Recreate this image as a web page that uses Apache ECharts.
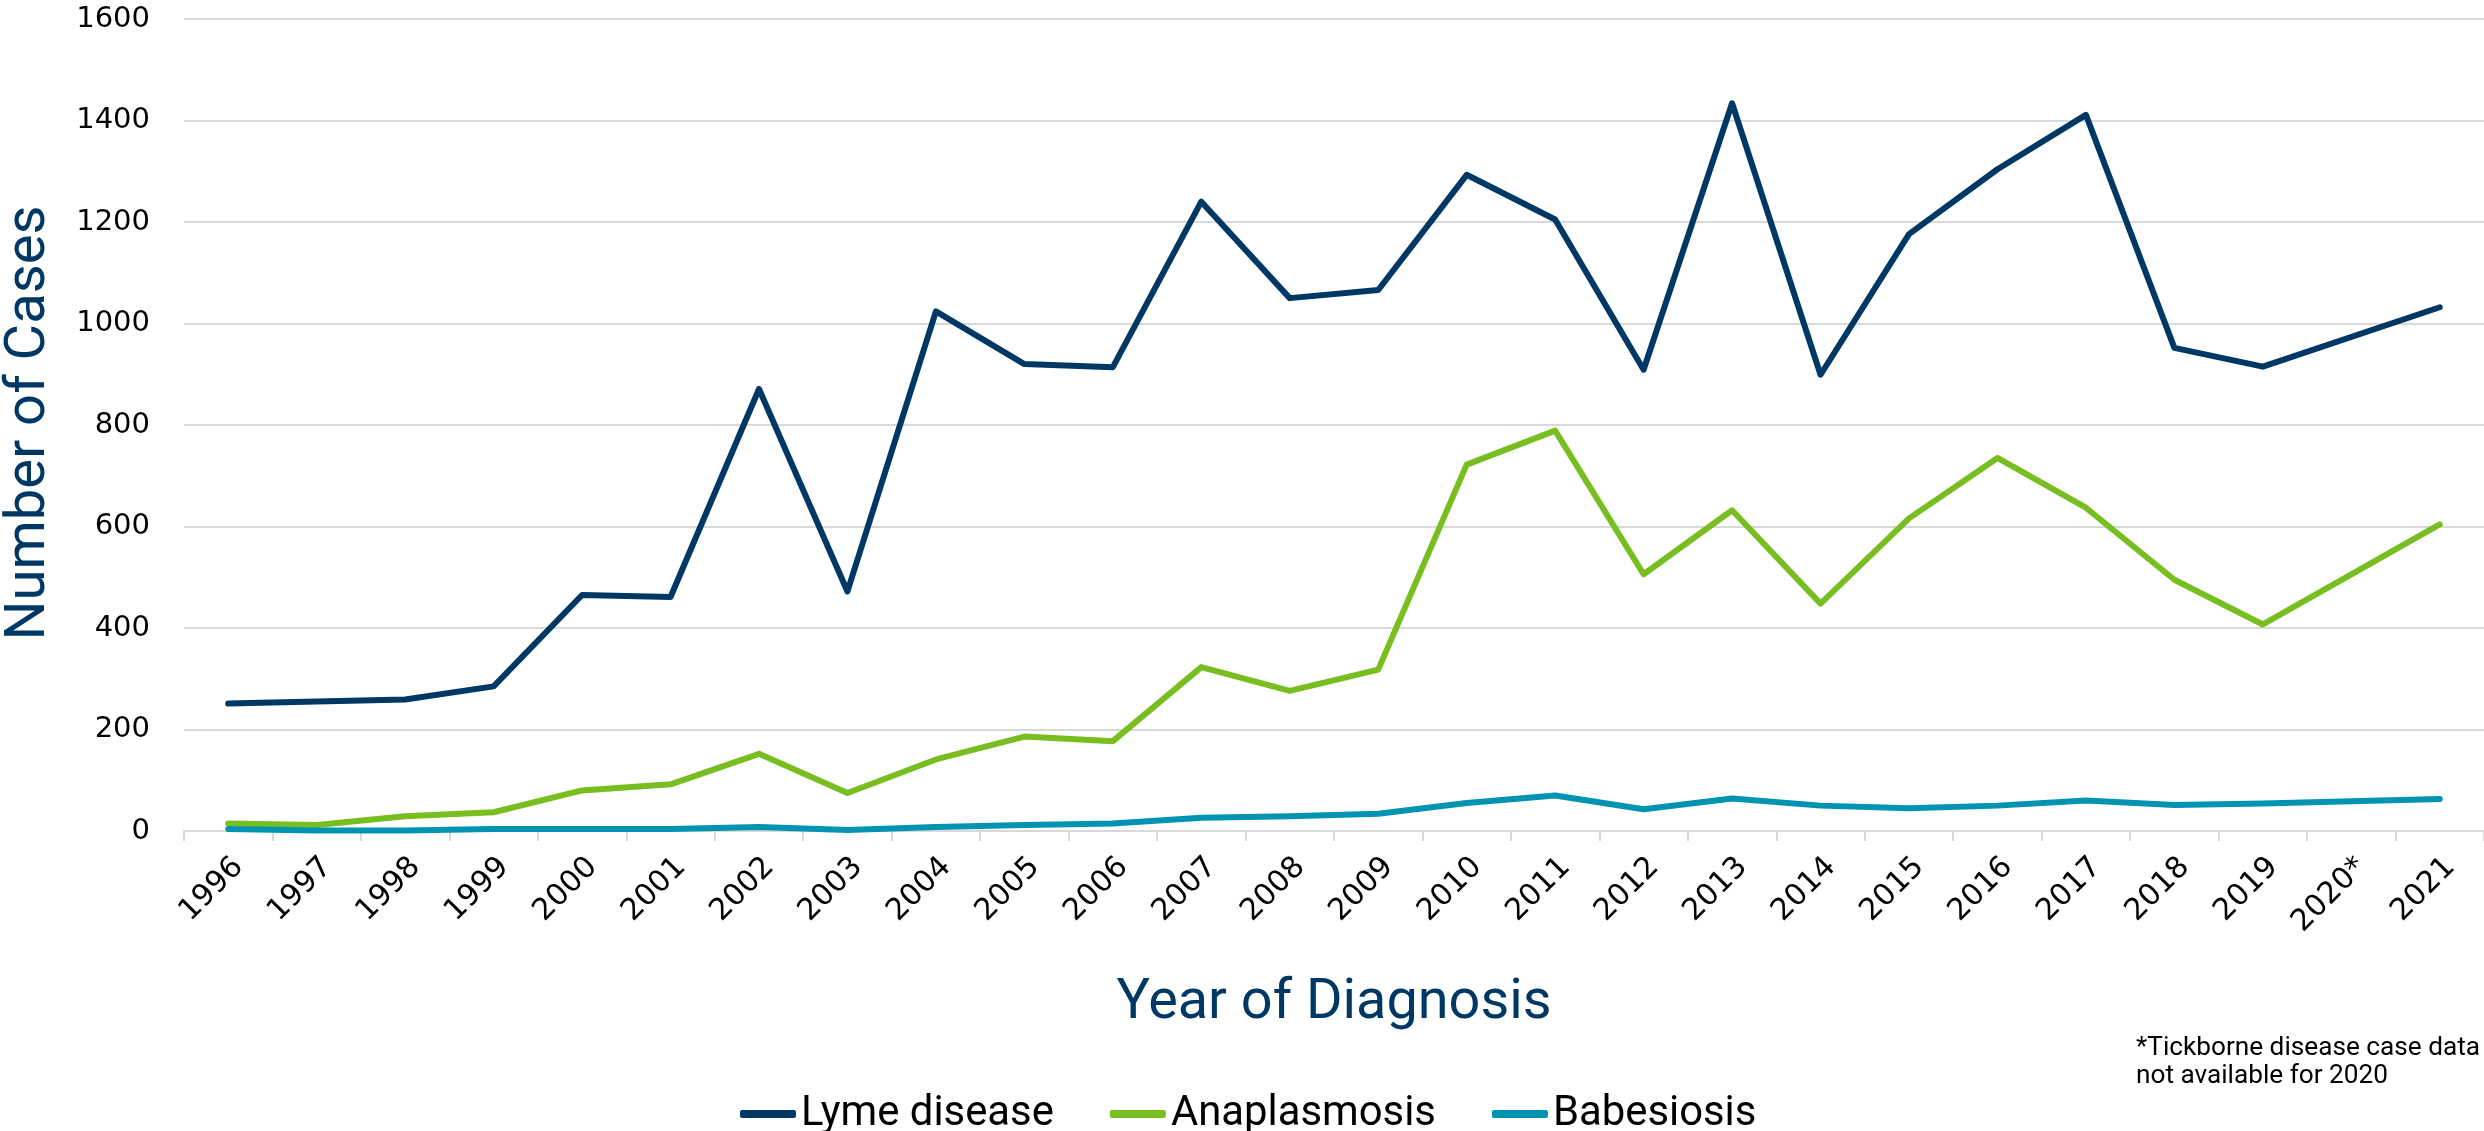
<!DOCTYPE html>
<html>
<head>
<meta charset="utf-8">
<script src="https://cdn.jsdelivr.net/npm/echarts@6/dist/echarts.min.js"></script>
<style>
html,body{margin:0;padding:0;background:#fff;}
#chart{width:2484px;height:1131px;}
</style>
</head>
<body>
<div id="chart"></div>
<script>
const years = ['1996','1997','1998','1999','2000','2001','2002','2003','2004','2005','2006','2007','2008','2009','2010','2011','2012','2013','2014','2015','2016','2017','2018','2019','2020*','2021'];
const lymeDisease = [251,255,259,285,465,461,871,472,1024,920,914,1240,1050,1066,1293,1205,909,1434,899,1176,1304,1411,952,915,null,1032];
const anaplasmosis = [15,12,29,37,80,92,152,75,141,186,177,323,276,318,722,789,506,632,448,616,735,637,495,407,null,604];
const babesiosis = [4,1,1,4,4,4,8,2,8,12,15,26,29,34,55,70,43,64,50,45,50,60,51,54,null,63];
const yTicks = [0,200,400,600,800,1000,1200,1400,1600];
const seriesNames = ['Lyme disease','Anaplasmosis','Babesiosis'];
const yTitle = 'Number of Cases';
const xTitle = 'Year of Diagnosis';
const noteLines = ['*Tickborne disease case data','not available for 2020'];

const navy = '#003865';
const titleFamily = "Roboto, 'Liberation Sans', sans-serif";
const tickFamily = "'DejaVu Sans', sans-serif";

// fit a font size so that text has the target width
const ctx = document.createElement('canvas').getContext('2d');
function fitSize(text, width, family){
  ctx.font = '100px ' + family;
  return 100 * width / ctx.measureText(text).width;
}
const titleSize = fitSize(xTitle, 435, titleFamily);
const ySize = fitSize(yTitle, 435, titleFamily);
const legendSize = fitSize(seriesNames[0], 253, titleFamily);
const noteSize = fitSize(noteLines[0], 344, titleFamily);

const chart = echarts.init(document.getElementById('chart'));
function mk(name, data, color, w){
  return {name, type:'line', data, connectNulls:true, symbol:'none', showSymbol:false,
    lineStyle:{color, width:w, cap:'round', join:'round'}, itemStyle:{color}, animation:false};
}
chart.setOption({
  animation:false,
  backgroundColor:'#fff',
  grid:{left:184, right:0, top:19, bottom:300, containLabel:false, outerBoundsMode:'none'},
  xAxis:{
    type:'category', data:years, boundaryGap:true,
    axisLine:{show:true, lineStyle:{color:'#d9d9d9', width:2}},
    axisTick:{show:true, length:10, alignWithLabel:false, lineStyle:{color:'#d9d9d9', width:2}},
    axisLabel:{rotate:45, margin:21, verticalAlign:'top', fontFamily:tickFamily, fontSize:30, color:'#000', interval:0},
    splitLine:{show:false}
  },
  yAxis:{
    type:'value', min:yTicks[0], max:yTicks[yTicks.length-1], interval:yTicks[1]-yTicks[0],
    axisLine:{show:false}, axisTick:{show:false},
    axisLabel:{margin:34, fontFamily:tickFamily, fontSize:29, color:'#000', formatter:v=>String(v)},
    splitLine:{lineStyle:{color:'#d9d9d9', width:2}}
  },
  legend:{
    left:735, top:1109 - legendSize/2, itemWidth:56, itemHeight:8, itemGap:56, icon:'roundRect',
    textStyle:{fontFamily:titleFamily, fontSize:legendSize, lineHeight:legendSize, color:'#000'},
    data:seriesNames
  },
  graphic:[
    {type:'text', x:30, y:423, rotation:Math.PI/2,
     style:{text:yTitle, font:ySize.toFixed(1)+'px '+titleFamily, fill:navy, align:'center', verticalAlign:'middle'}},
    {type:'text', x:1334, y:1004,
     style:{text:xTitle, font:titleSize.toFixed(1)+'px '+titleFamily, fill:navy, align:'center', verticalAlign:'middle'}},
    {type:'text', x:2136, y:1048,
     style:{text:noteLines[0], font:noteSize.toFixed(1)+'px '+titleFamily, fill:'#000', align:'left', verticalAlign:'middle'}},
    {type:'text', x:2136, y:1076,
     style:{text:noteLines[1], font:noteSize.toFixed(1)+'px '+titleFamily, fill:'#000', align:'left', verticalAlign:'middle'}}
  ],
  series:[
    mk(seriesNames[0], lymeDisease, '#003865', 6),
    mk(seriesNames[1], anaplasmosis, '#78be20', 6),
    mk(seriesNames[2], babesiosis, '#0093b2', 6)
  ]
});
</script>
</body>
</html>
